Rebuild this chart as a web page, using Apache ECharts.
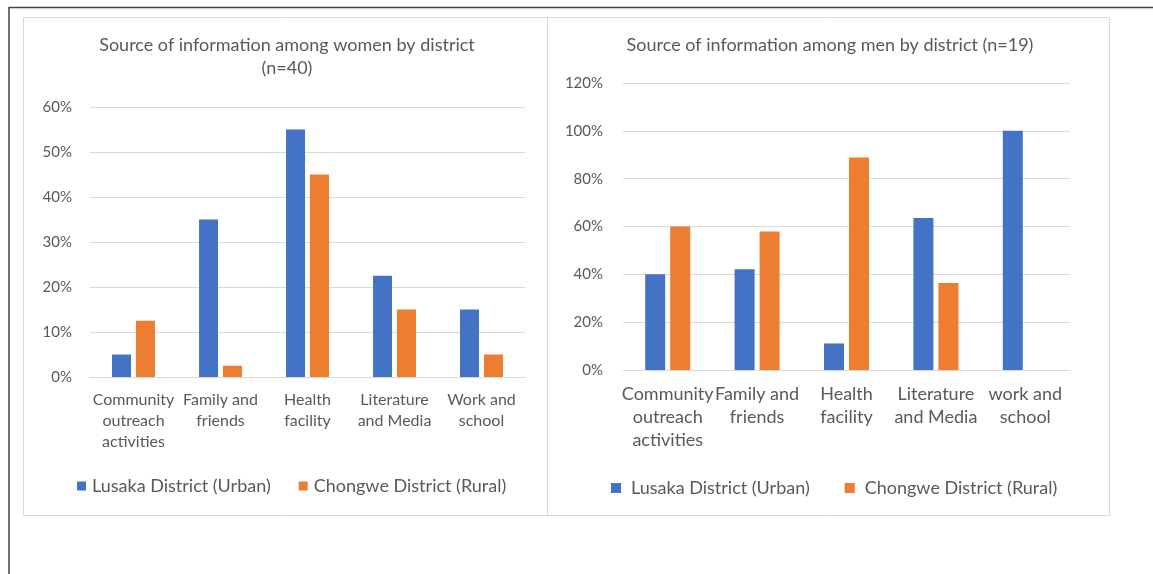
<!DOCTYPE html>
<html>
<head>
<meta charset="utf-8">
<script src="https://cdn.jsdelivr.net/npm/echarts@6/dist/echarts.min.js"></script>
<style>
html,body{margin:0;padding:0;background:#fff;}
#c{width:1153px;height:574px;}
</style>
</head>
<body>
<div id="c"></div>
<script>
// ---- data ----
const womenCategories = ['Community\noutreach\nactivities', 'Family and\nfriends', 'Health\nfacility', 'Literature\nand Media', 'Work and\nschool'];
const menCategories = ['Community\noutreach\nactivities', 'Family and\nfriends', 'Health\nfacility', 'Literature\nand Media', 'work and\nschool'];
const seriesNames = ['Lusaka District (Urban)', 'Chongwe District (Rural)'];
const womenLusaka = [5, 35, 55, 22.5, 15];
const womenChongwe = [12.5, 2.5, 45, 15, 5];
const menLusaka = [40, 42.1, 11.1, 63.6, 100];
const menChongwe = [60, 57.9, 88.9, 36.4, 0];
const womenTitle = 'Source of information among women by district\n(n=40)';
const menTitle = 'Source of information among men by district (n=19)';

const FONT = 'Lato, "Open Sans", sans-serif';
const TXT = '#595959';
const BLUE = '#4472C4';
const ORANGE = '#ED7D31';
const GRID = '#D9D9D9';

const chart = echarts.init(document.getElementById('c'), null, {renderer: 'canvas'});

function yAxis(idx, max, interval) {
  return {
    type: 'value', gridIndex: idx, min: 0, max: max, interval: interval,
    axisLine: {show: false}, axisTick: {show: false},
    axisLabel: {formatter: '{value}%', color: TXT, fontFamily: FONT, fontSize: 15, margin: idx === 0 ? 18 : 20},
    splitLine: {lineStyle: {color: GRID, width: 1}}
  };
}
function xAxis(idx, cats) {
  return {
    type: 'category', gridIndex: idx, data: cats,
    axisLine: {lineStyle: {color: GRID, width: 1}}, axisTick: {show: false},
    axisLabel: {color: TXT, fontFamily: FONT, fontSize: idx === 0 ? 16 : 18, lineHeight: idx === 0 ? 21 : 23, margin: idx === 0 ? 12 : 13, interval: 0}
  };
}

chart.setOption({
  animation: false,
  textStyle: {fontFamily: FONT},
  graphic: [
    {type: 'line', shape: {x1: 9, y1: 7.5, x2: 1153, y2: 7.5}, style: {stroke: '#444', lineWidth: 1.5}},
    {type: 'line', shape: {x1: 9, y1: 7, x2: 9, y2: 574}, style: {stroke: '#444', lineWidth: 1.5}},
    {type: 'rect', shape: {x: 23.5, y: 17.5, width: 524, height: 498}, style: {fill: 'none', stroke: GRID, lineWidth: 1}, z: -1},
    {type: 'rect', shape: {x: 547.5, y: 17.5, width: 562, height: 498}, style: {fill: 'none', stroke: GRID, lineWidth: 1}, z: -1}
  ],
  title: [
    {text: womenTitle, left: 282, top: 29, textAlign: 'center',
     textStyle: {color: TXT, fontFamily: FONT, fontSize: 18, fontWeight: 'normal', lineHeight: 23}},
    {text: menTitle, left: 825, top: 29, textAlign: 'center',
     textStyle: {color: TXT, fontFamily: FONT, fontSize: 18, fontWeight: 'normal', lineHeight: 23}}
  ],
  legend: [
    {data: seriesNames, left: 77, top: 477, padding: 0, icon: 'rect', itemWidth: 9, itemHeight: 9, itemGap: 28,
     textStyle: {color: TXT, fontFamily: FONT, fontSize: 18, padding: [0, 0, 0, 1]}},
    {data: seriesNames, left: 611, top: 479, padding: 0, icon: 'rect', itemWidth: 10, itemHeight: 10, itemGap: 35,
     textStyle: {color: TXT, fontFamily: FONT, fontSize: 18, padding: [0, 0, 0, 5]}}
  ],
  grid: [
    {left: 90, top: 107, width: 435, height: 270},
    {left: 623, top: 83, width: 447, height: 287}
  ],
  xAxis: [xAxis(0, womenCategories), xAxis(1, menCategories)],
  yAxis: [yAxis(0, 60, 10), yAxis(1, 120, 20)],
  series: [
    {name: seriesNames[0], type: 'bar', xAxisIndex: 0, yAxisIndex: 0, data: womenLusaka, barWidth: 19, barGap: '26%', itemStyle: {color: BLUE}},
    {name: seriesNames[1], type: 'bar', xAxisIndex: 0, yAxisIndex: 0, data: womenChongwe, barWidth: 19, barGap: '26%', itemStyle: {color: ORANGE}},
    {name: seriesNames[0], type: 'bar', xAxisIndex: 1, yAxisIndex: 1, data: menLusaka, barWidth: 20, barGap: '25%', itemStyle: {color: BLUE}},
    {name: seriesNames[1], type: 'bar', xAxisIndex: 1, yAxisIndex: 1, data: menChongwe, barWidth: 20, barGap: '25%', itemStyle: {color: ORANGE}}
  ]
});
</script>
</body>
</html>
